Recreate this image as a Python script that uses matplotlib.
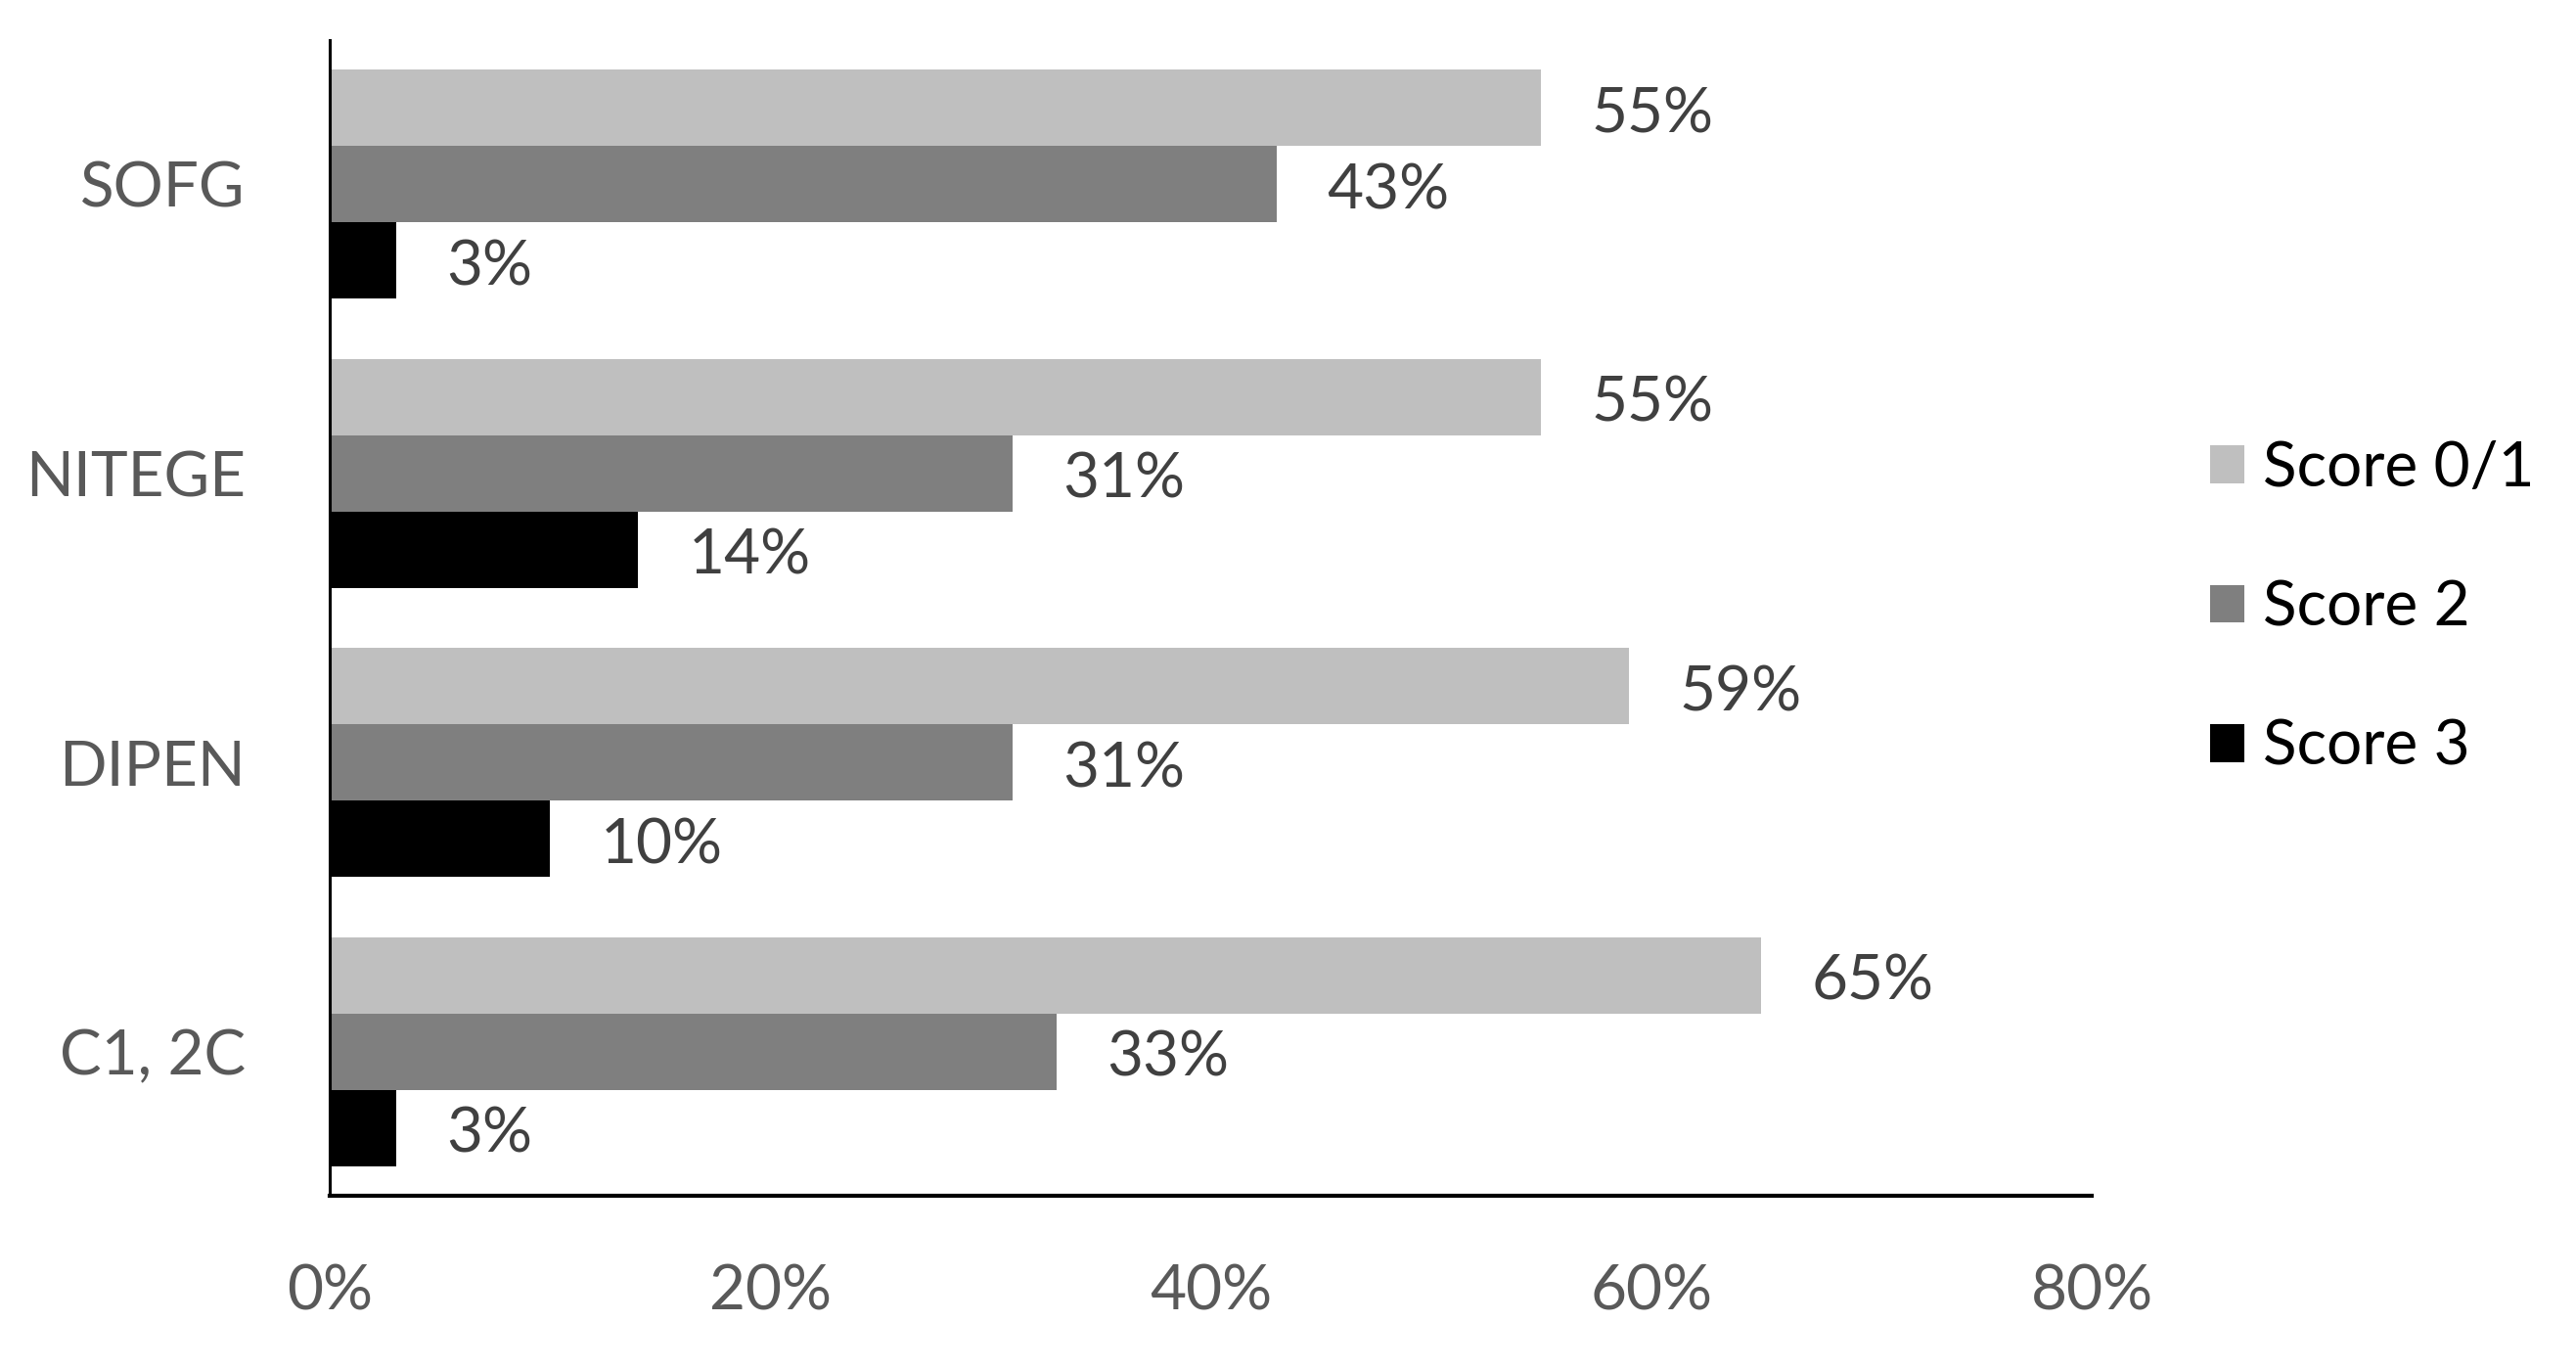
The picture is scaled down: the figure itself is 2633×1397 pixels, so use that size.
import numpy as np
import matplotlib.pyplot as plt

# data (bottom to top as drawn)
categories = ["C1, 2C", "DIPEN", "NITEGE", "SOFG"]
score_01 = [65, 59, 55, 55]
score_2 = [33, 31, 31, 43]
score_3 = [3, 10, 14, 3]
series_names = ["Score 0/1", "Score 2", "Score 3"]
xticks = [0, 20, 40, 60, 80]

colors = ["#BFBFBF", "#7F7F7F", "#000000"]
plt.rcParams['font.family'] = ['Lato', 'DejaVu Sans']
fs = 46

fig = plt.figure(figsize=(26.33, 13.97), dpi=100)
ax = fig.add_axes([0.128, 0.125, 0.684, 0.846])

y = np.arange(len(categories))
h = 0.264
offsets = [h, 0, -h]
for vals, off, col, name in zip([score_01, score_2, score_3], offsets, colors, series_names):
    bars = ax.barh(y + off, vals, height=h, color=col, label=name)
    for b, v in zip(bars, vals):
        ax.annotate(f"{v}%", (b.get_width(), b.get_y() + b.get_height() / 2),
                    xytext=(37, -5), textcoords="offset points",
                    ha="left", va="center", fontsize=fs, color="#404040")

ax.set_xlim(0, 80)
ax.set_ylim(-0.5, 3.5)
ax.set_xticks(xticks)
ax.set_xticklabels([f"{t}%" for t in xticks])
ax.set_yticks(y)
ax.set_yticklabels(categories)
ax.tick_params(axis="x", length=0, pad=50, labelsize=fs, labelcolor="#595959")
ax.tick_params(axis="y", length=0, pad=62, labelsize=fs, labelcolor="#595959")

for s in ["top", "right"]:
    ax.spines[s].set_visible(False)
ax.spines["left"].set_linewidth(2.2)
ax.spines["bottom"].set_linewidth(3)

leg = fig.legend(loc="center left", bbox_to_anchor=(0.836, 0.555), frameon=False,
                 fontsize=fs, handlelength=0.55, handleheight=0.55,
                 handletextpad=0.3, labelspacing=1.32, labelcolor="black")

fig.savefig("out.png", dpi=100)
